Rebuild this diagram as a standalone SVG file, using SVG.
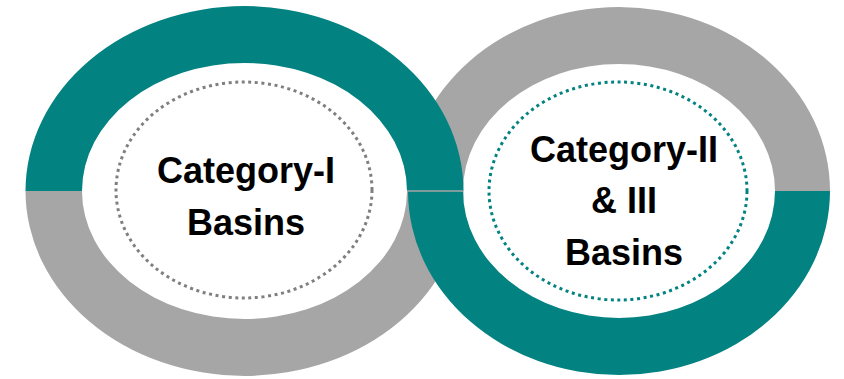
<svg xmlns="http://www.w3.org/2000/svg" width="844" height="379" viewBox="0 0 844 379">
<style>
.teal{fill:#028281}
.gray{fill:#a6a6a6}
.inner{fill:#ffffff}
.dotg{fill:none;stroke:#7f7f7f;stroke-width:3;stroke-dasharray:3 3.6}
.dott{fill:none;stroke:#028281;stroke-width:3;stroke-dasharray:3 3.6}
.lbl{font-family:"Liberation Sans",Arial,sans-serif;font-weight:bold;font-size:36px;fill:#000;text-anchor:middle}
</style>
<rect width="844" height="379" fill="#ffffff"/>
<g id="ring-right-top">
<path class="gray" d="M408,191 A211,184 0 0 1 830,191 L775,191 A156,127 0 0 0 463,191 Z"/>
</g>
<g id="ring-left">
<path class="teal" d="M25.5,191 A219,185 0 0 1 463.5,191 L407,191 A162.5,128 0 0 0 82,191 Z"/>
<path class="gray" d="M25.5,191 A219,185 0 0 0 463.5,191 L407,191 A162.5,128 0 0 1 82,191 Z"/>
</g>
<g id="ring-right-bottom">
<path class="teal" d="M408,191 A211,184 0 0 0 830,191 L775,191 A156,127 0 0 1 463,191 Z"/>
</g>
<g id="connectors">
<line x1="407" y1="191" x2="463" y2="191" stroke="#a6a6a6" stroke-width="1.5"/>
</g>
<g id="node-category-i">
<ellipse class="dotg" cx="244" cy="190" rx="128" ry="108"/>
<text class="lbl" x="246" y="183">Category-I</text>
<text class="lbl" x="246" y="235">Basins</text>
</g>
<g id="node-category-ii-iii">
<ellipse class="dott" cx="618" cy="191" rx="129" ry="109"/>
<text class="lbl" x="624" y="162">Category-II</text>
<text class="lbl" x="624" y="213">&amp; III</text>
<text class="lbl" x="624" y="265">Basins</text>
</g>
</svg>
